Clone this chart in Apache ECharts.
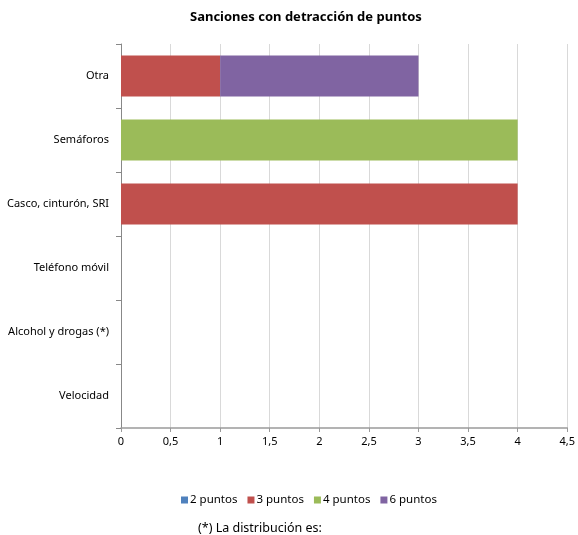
<!DOCTYPE html>
<html><head><meta charset="utf-8">
<script src="https://cdn.jsdelivr.net/npm/echarts@6/dist/echarts.min.js"></script>
<style>html,body{margin:0;padding:0;background:#fff}#c{width:578px;height:535px}</style>
</head><body><div id="c"></div>
<script>
const categories = ['Velocidad', 'Alcohol y drogas (*)', 'Teléfono móvil', 'Casco, cinturón, SRI', 'Semáforos', 'Otra'];
const seriesNames = ['2 puntos', '3 puntos', '4 puntos', '6 puntos'];
const p2 = [0, 0, 0, 0, 0, 0];
const p3 = [0, 0, 0, 4, 0, 1];
const p4 = [0, 0, 0, 0, 4, 0];
const p6 = [0, 0, 0, 0, 0, 2];
const colors = ['#4F81BD', '#C0504D', '#9BBB59', '#8064A2'];
const values = [p2, p3, p4, p6];
const font = 'Noto Sans';
const chart = echarts.init(document.getElementById('c'));
chart.setOption({
  animation: false,
  color: colors,
  title: [{
    text: 'Sanciones con detracción de puntos', left: 185, top: 6,
    textStyle: {fontFamily: font, fontSize: 13, fontWeight: 'bold', color: '#000'}
  }, {
    text: '(*) La distribución es:', left: 193, top: 517,
    textStyle: {fontFamily: font, fontSize: 12.5, fontWeight: 'normal', color: '#000'}
  }],
  legend: {
    bottom: 24, left: 176, itemWidth: 7, itemHeight: 7, itemGap: 10,
    icon: 'rect',
    textStyle: {fontFamily: font, fontSize: 11.5, color: '#000', padding: [0, 0, 0, -3]},
    data: seriesNames
  },
  grid: {left: 121, right: 9, top: 44, bottom: 107},
  xAxis: {
    type: 'value', min: 0, max: 4.5, interval: 0.5,
    axisLine: {show: true, lineStyle: {color: '#9a9a9a', width: 1.5}},
    axisTick: {show: true, length: 4, lineStyle: {color: '#9a9a9a'}},
    splitLine: {show: true, lineStyle: {color: '#d9d9d9'}},
    axisLabel: {fontFamily: font, fontSize: 11, color: '#000', margin: 8,
      formatter: v => String(v).replace('.', ',')}
  },
  yAxis: {
    type: 'category', data: categories,
    axisLine: {show: true, lineStyle: {color: '#888'}},
    axisTick: {show: true, length: 5, lineStyle: {color: '#888'}},
    axisLabel: {fontFamily: font, fontSize: 11, color: '#000', margin: 12}
  },
  series: seriesNames.map((n, i) => ({
    name: n, type: 'bar', stack: 'total', data: values[i],
    barCategoryGap: '36%'
  }))
});
</script></body></html>
